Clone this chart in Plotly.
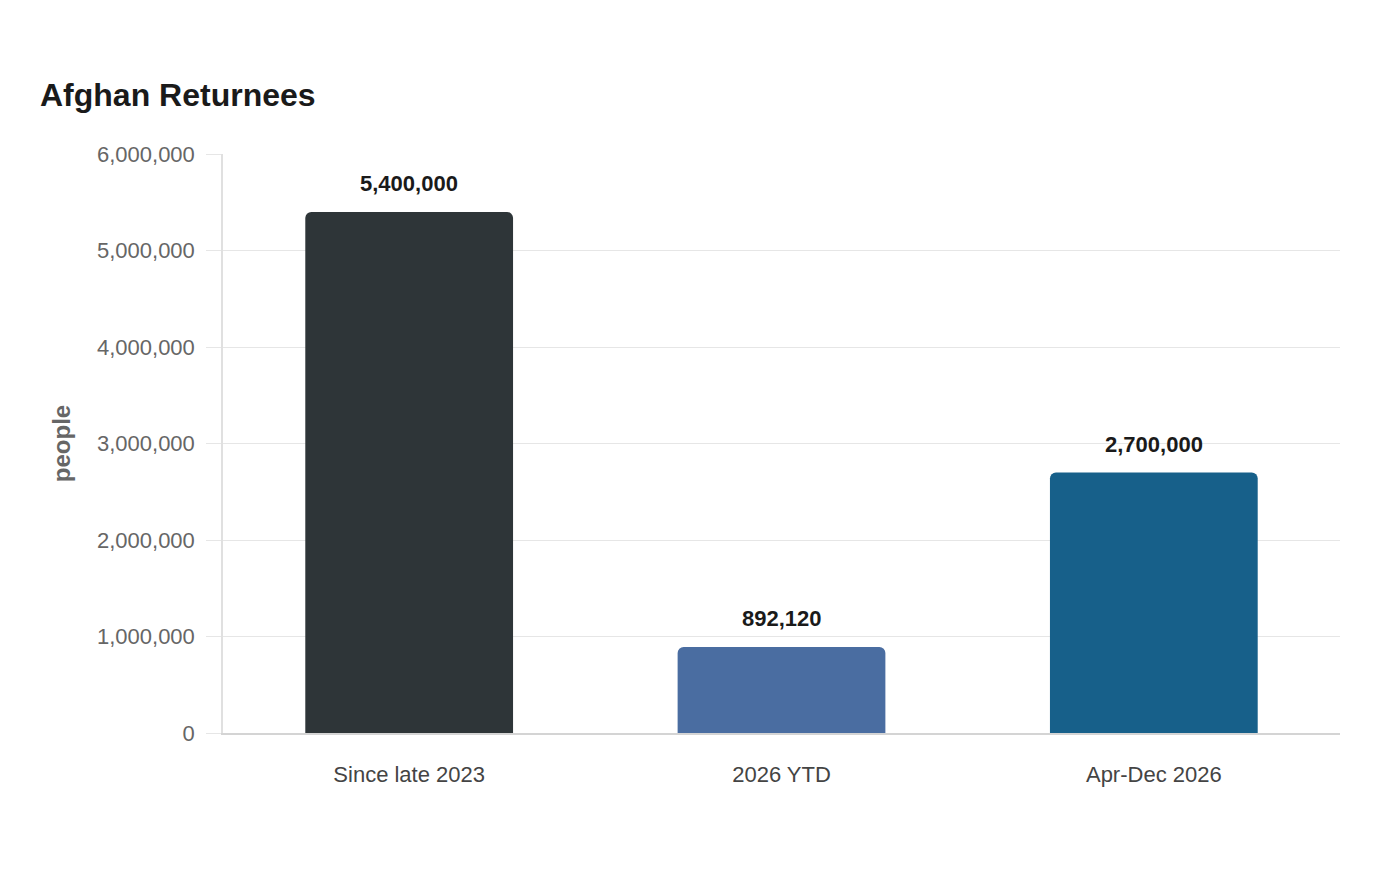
import plotly.graph_objects as go

categories = ["Since late 2023", "2026 YTD", "Apr-Dec 2026"]
values = [5400000, 892120, 2700000]
value_labels = ["5,400,000", "892,120", "2,700,000"]
bar_colors = ["#2e3538", "#4a6da1", "#17608a"]
y_ticks = [0, 1000000, 2000000, 3000000, 4000000, 5000000, 6000000]
y_tick_labels = ["0", "1,000,000", "2,000,000", "3,000,000", "4,000,000", "5,000,000", "6,000,000"]

FONT = "Liberation Sans, Arial, sans-serif"

fig = go.Figure()
fig.add_trace(go.Bar(
    x=categories, y=values,
    marker=dict(color=bar_colors, cornerradius=6, line=dict(width=0)),
    hoverinfo="x+y",
))

for c, v, t in zip(categories, values, value_labels):
    fig.add_annotation(x=c, y=v, text=f"<b>{t}</b>", showarrow=False,
                       yshift=28, font=dict(family=FONT, size=22, color="#1a1a1a"))

fig.update_layout(
    width=1400, height=880,
    margin=dict(l=223, r=60, t=154, b=147),
    paper_bgcolor="white", plot_bgcolor="white",
    bargap=0.442,
    showlegend=False,
    title=dict(text="<b>Afghan Returnees</b>", x=40/1400, xanchor="left", xref="container",
               y=1 - 95/880, yanchor="middle", yref="container",
               font=dict(family=FONT, size=32, color="#1a1a1a")),
    font=dict(family=FONT),
)

fig.update_yaxes(
    range=[0, 6000000], tickvals=y_ticks, ticktext=y_tick_labels,
    showgrid=True, gridcolor="#e6e6e6", gridwidth=1,
    showline=True, linecolor="#e0e0e0", linewidth=1.5,
    ticks="outside", ticklen=15, tickcolor="#e6e6e6",
    ticklabelstandoff=7,
    tickfont=dict(family=FONT, size=22, color="#666666"),
    title=dict(text="<b>people</b>", font=dict(family=FONT, size=24, color="#666666"), standoff=20),
    zeroline=False, fixedrange=True,
)
fig.update_xaxes(
    showline=True, linecolor="#d4d4d4", linewidth=2,
    ticks="", ticklabelstandoff=21,
    tickfont=dict(family=FONT, size=22, color="#444444"),
    showgrid=False, fixedrange=True,
)

fig.write_html("out.html")
